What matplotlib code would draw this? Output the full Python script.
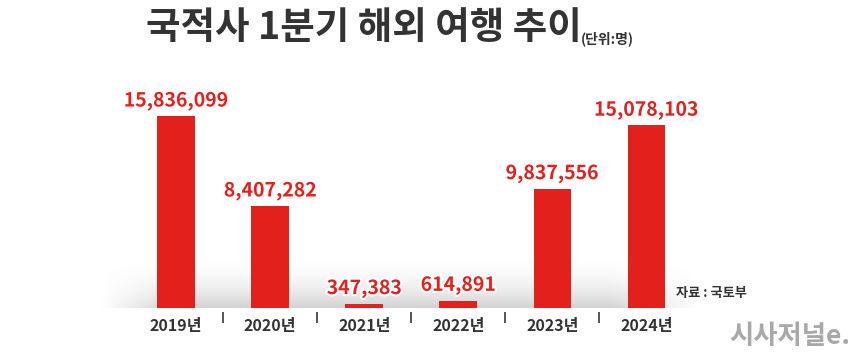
import numpy as np
import matplotlib
matplotlib.use('Agg')
from matplotlib import pyplot as plt
import matplotlib.patheffects as pe

years = ['2019년', '2020년', '2021년', '2022년', '2023년', '2024년']
travelers = [15836099, 8407282, 347383, 614891, 9837556, 15078103]

title = '국적사 1분기 해외 여행 추이'
unit = '(단위:명)'
source = '자료 : 국토부'
brand = '시사저널e.'

plt.rcParams['font.family'] = ['Noto Sans CJK KR', 'DejaVu Sans']

RED = '#e4201c'
DARK = '#333333'

fig = plt.figure(figsize=(8.6, 3.58), dpi=100)
fig.patch.set_facecolor('white')

# axes placed in pixel terms: baseline at y=308, bars start x=100..700
ax = fig.add_axes([100 / 860, 50 / 358, 600 / 860, 248 / 358])
ax.set_xlim(-0.81, 5.57)
ax.set_ylim(0, 20.48e6)
ax.axis('off')

x = np.arange(len(years))

# soft grey shadow band under the bars
ny, nx = 60, 300
gy = np.linspace(1, 0, ny)[:, None]
gx = np.linspace(0, 1, nx)[None, :]
fade_x = np.clip(gx / 0.12, 0, 1) * np.clip((1 - gx) / 0.15, 0, 1)
alpha = (1 - gy) ** 2.2 * 0.32 * fade_x
img = np.zeros((ny, nx, 4))
img[..., :3] = 0.45
img[..., 3] = alpha
ax.imshow(img, extent=(-0.81, 5.57, 0, 4.6e6), aspect='auto',
          origin='upper', zorder=0, interpolation='bilinear')

ax.bar(x, travelers, width=0.4, color=RED, zorder=2)

for xi, v in zip(x, travelers):
    ax.annotate(f'{v:,}', (xi, v), xytext=(0, 4), textcoords='offset points',
                ha='center', va='bottom', fontsize=14, fontweight='bold',
                color=RED, zorder=3,
                path_effects=[pe.withStroke(linewidth=3, foreground='white')])

# year labels and small separators
for xi, lab in zip(x, years):
    ax.text(xi, -1.45e6, lab, ha='center', va='center', fontsize=11.5,
            color=DARK, fontweight='bold')
ax.vlines(x[:-1] + 0.5, -1.2e6, -0.35e6, color='#555555', lw=1.4, clip_on=False)

fig.text(146 / 860, 1 - 27 / 358, title, ha='left', va='center',
         fontsize=27, fontweight='heavy', color=DARK)
fig.text(581 / 860, 1 - 39 / 358, unit, ha='left', va='center',
         fontsize=10, fontweight='bold', color=DARK)
fig.text(676 / 860, 1 - 293 / 358, source, ha='left', va='center',
         fontsize=9.5, fontweight='bold', color=DARK)
fig.text(850 / 860, 1 - 337 / 358, brand, ha='right', va='center',
         fontsize=19, fontweight='black', color='#a8a8a8', style='italic')

fig.savefig('out.png', dpi=100)
